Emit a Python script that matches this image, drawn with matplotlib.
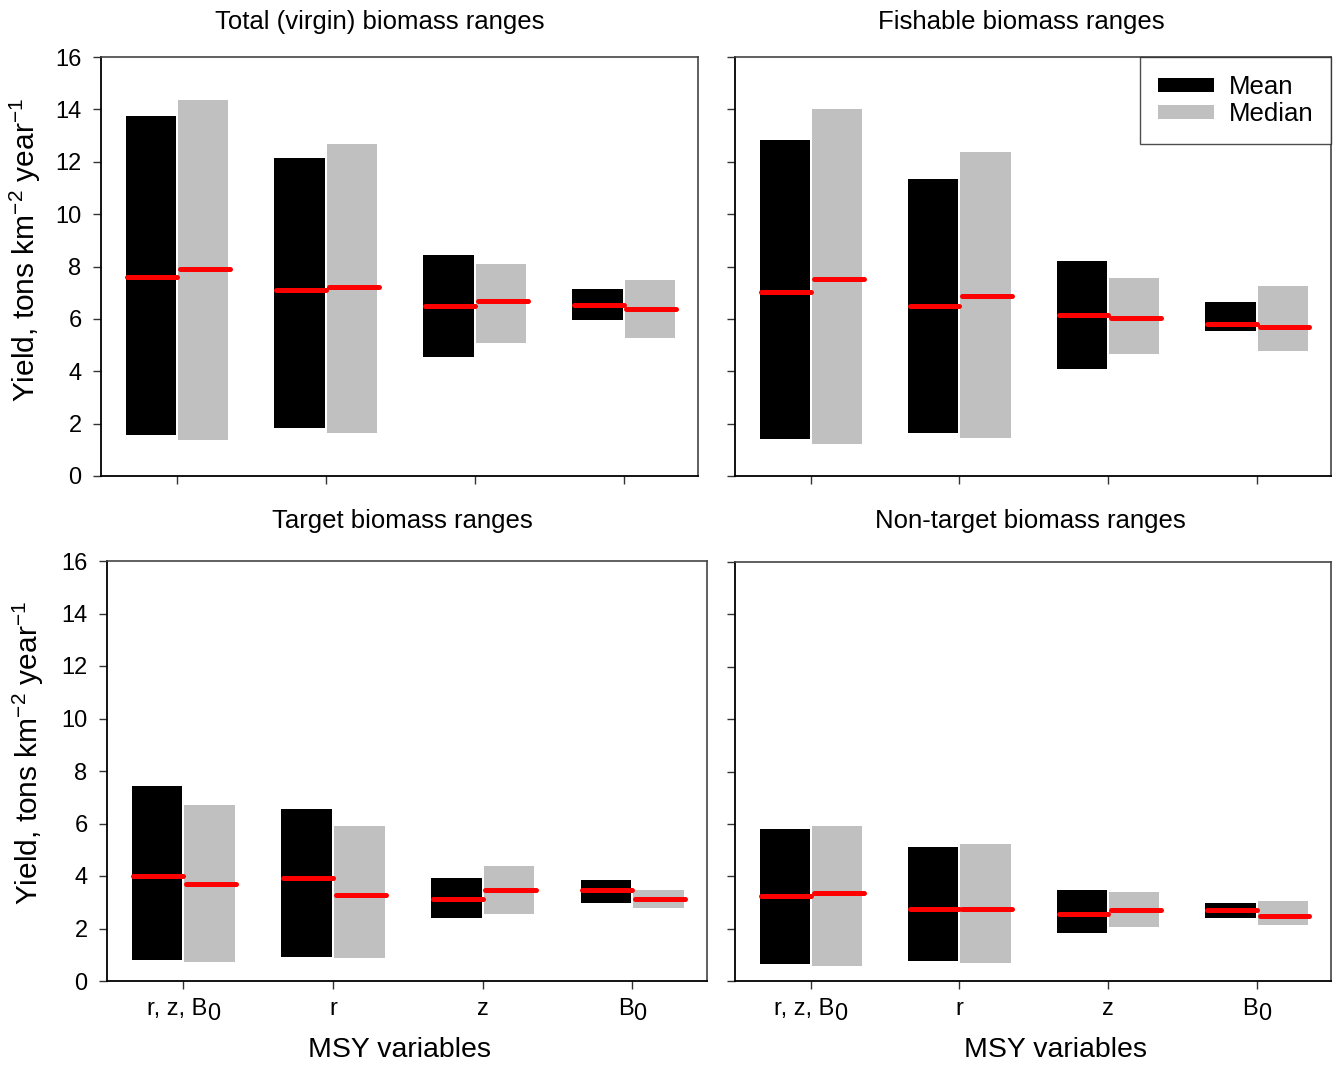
import matplotlib
matplotlib.use("Agg")
import matplotlib.pyplot as plt
from matplotlib.patches import Patch
import numpy as np

plt.rcParams['font.family'] = ['Liberation Sans', 'DejaVu Sans']
plt.rcParams['mathtext.fontset'] = 'custom'
plt.rcParams['mathtext.rm'] = 'Liberation Sans'
plt.rcParams['mathtext.it'] = 'Liberation Sans'
plt.rcParams['mathtext.default'] = 'regular'

# category tick labels: base text and subscript
tick_labels = ["r, z, B", "r", "z", "B"]
tick_subscripts = ["0", "", "", "0"]
titles = ["Total (virgin) biomass ranges", "Fishable biomass ranges",
          "Target biomass ranges", "Non-target biomass ranges"]
y_ticks = [0, 2, 4, 6, 8, 10, 12, 14, 16]

# Panel 1: Total (virgin) biomass
total_mean_low = [1.57, 1.83, 4.54, 5.96]
total_mean_high = [13.75, 12.14, 8.44, 7.14]
total_mean_mid = [7.60, 7.10, 6.49, 6.53]
total_median_low = [1.37, 1.64, 5.08, 5.27]
total_median_high = [14.36, 12.68, 8.09, 7.48]
total_median_mid = [7.90, 7.22, 6.68, 6.38]

# Panel 2: Fishable biomass
fish_mean_low = [1.41, 1.64, 4.09, 5.54]
fish_mean_high = [12.83, 11.34, 8.21, 6.64]
fish_mean_mid = [7.03, 6.49, 6.15, 5.80]
fish_median_low = [1.22, 1.45, 4.66, 4.77]
fish_median_high = [14.01, 12.37, 7.56, 7.25]
fish_median_mid = [7.52, 6.87, 6.03, 5.69]

# Panel 3: Target biomass
target_mean_low = [0.80, 0.91, 2.40, 2.97]
target_mean_high = [7.43, 6.55, 3.92, 3.85]
target_mean_mid = [4.00, 3.92, 3.12, 3.45]
target_median_low = [0.72, 0.88, 2.55, 2.78]
target_median_high = [6.70, 5.90, 4.38, 3.47]
target_median_mid = [3.70, 3.28, 3.47, 3.12]

# Panel 4: Non-target biomass
nontarget_mean_low = [0.65, 0.76, 1.83, 2.40]
nontarget_mean_high = [5.79, 5.10, 3.47, 2.97]
nontarget_mean_mid = [3.24, 2.74, 2.55, 2.70]
nontarget_median_low = [0.57, 0.69, 2.06, 2.13]
nontarget_median_high = [5.90, 5.22, 3.39, 3.05]
nontarget_median_mid = [3.35, 2.74, 2.70, 2.48]

panels = [
    (total_mean_low, total_mean_high, total_mean_mid,
     total_median_low, total_median_high, total_median_mid),
    (fish_mean_low, fish_mean_high, fish_mean_mid,
     fish_median_low, fish_median_high, fish_median_mid),
    (target_mean_low, target_mean_high, target_mean_mid,
     target_median_low, target_median_high, target_median_mid),
    (nontarget_mean_low, nontarget_mean_high, nontarget_mean_mid,
     nontarget_median_low, nontarget_median_high, nontarget_median_mid),
]

W, H = 1336, 1070
fig = plt.figure(figsize=(W / 100, H / 100), dpi=100)
renderer = fig.canvas.get_renderer()

# pixel boxes: left, top, right, bottom
boxes = [(101, 57, 698, 476), (735, 57, 1331, 476),
         (107, 561, 707, 981), (735, 562, 1331, 981)]
# title anchor (pixel x center, pixel baseline)
title_pos = [(380, 29), (1021, 29), (402, 528), (1030, 528)]
xlabel_pos = {2: (400, 1057), 3: (1055, 1057)}
ylabel_pos = {0: (25, 250), 2: (28, 753)}

BLACK = "#000000"
GRAY = "#c0c0c0"
RED = "#ff0000"
bw = 0.338
gap = 0.007
FS_TICK = 17
FS_TITLE = 18.5

x = np.arange(len(tick_labels))
for i, (box, data, title) in enumerate(zip(boxes, panels, titles)):
    l, t, r, b = box
    ax = fig.add_axes([l / W, (H - b) / H, (r - l) / W, (b - t) / H])
    mlo, mhi, mmid, dlo, dhi, dmid = [np.array(v) for v in data]
    ax.bar(x - gap - bw, mhi - mlo, bottom=mlo, width=bw, align='edge',
           color=BLACK, linewidth=0, zorder=2)
    ax.bar(x + gap, dhi - dlo, bottom=dlo, width=bw, align='edge',
           color=GRAY, linewidth=0, zorder=2)
    for j in range(len(x)):
        ax.plot([x[j] - gap - bw + 0.012, x[j] + 0.0], [mmid[j], mmid[j]],
                color=RED, lw=3.6, solid_capstyle='round', zorder=3)
        ax.plot([x[j] + gap + 0.012, x[j] + gap + bw + 0.01], [dmid[j], dmid[j]],
                color=RED, lw=3.6, solid_capstyle='round', zorder=3)
    ax.set_xlim(-0.51, 3.5)
    ax.set_ylim(0, 16)
    ax.set_yticks(y_ticks)
    ax.set_xticks(x)
    ax.set_xticklabels([])
    ax.tick_params(axis='both', direction='out', length=6, width=1,
                   labelsize=FS_TICK, color='#333333')
    ax.tick_params(axis='y', pad=8)
    if i in ylabel_pos:
        px, py = ylabel_pos[i]
        ax.set_ylabel("Yield, tons km$^{-2}$ year$^{-1}$", fontsize=21.5,
                      va='center')
        ax.yaxis.set_label_coords((px - l) / (r - l), (b - py) / (b - t))
    else:
        ax.set_yticklabels([])
    if i in xlabel_pos:
        px, py = xlabel_pos[i]
        ax.set_xlabel("MSY variables", fontsize=20.5, va='baseline')
        ax.xaxis.set_label_coords((px - l) / (r - l), -(py - b) / (b - t))
        # custom category labels with full-size subscripts
        for j in range(len(x)):
            xc = ax.transData.transform((x[j], 0))[0]
            base = fig.text(0, 0, tick_labels[j], fontsize=FS_TICK,
                            ha='left', va='baseline')
            w1 = base.get_window_extent(renderer).width
            w2 = 0
            sub = None
            if tick_subscripts[j]:
                sub = fig.text(0, 0, tick_subscripts[j], fontsize=FS_TICK,
                               ha='left', va='baseline')
                w2 = sub.get_window_extent(renderer).width
            left = xc - (w1 + w2) / 2
            base.set_position((left / W, (H - 1015) / H))
            if sub is not None:
                sub.set_position(((left + w1) / W, (H - 1020) / H))
    tx, ty = title_pos[i]
    ax.text((tx - l) / (r - l), (b - ty) / (b - t), title, transform=ax.transAxes,
            ha='center', va='baseline', fontsize=FS_TITLE)
    for s in ['left', 'bottom']:
        ax.spines[s].set_linewidth(1.3)
        ax.spines[s].set_color('#000000')
    for s in ['top', 'right']:
        ax.spines[s].set_linewidth(1.2)
        ax.spines[s].set_color('#444444')
    if i == 1:
        handles = [Patch(facecolor=BLACK, edgecolor='none', label='Mean'),
                   Patch(facecolor=GRAY, edgecolor='none', label='Median')]
        leg = ax.legend(handles=handles, loc='upper right',
                        bbox_to_anchor=(1.0, 1.0), borderaxespad=0,
                        fontsize=18.5, frameon=True, fancybox=False,
                        handlelength=2.2, handleheight=0.45,
                        handletextpad=0.55, labelspacing=0.13,
                        borderpad=0.7)
        leg.get_frame().set_edgecolor('#222222')
        leg.get_frame().set_linewidth(1.0)

fig.savefig("out.png", dpi=100)
